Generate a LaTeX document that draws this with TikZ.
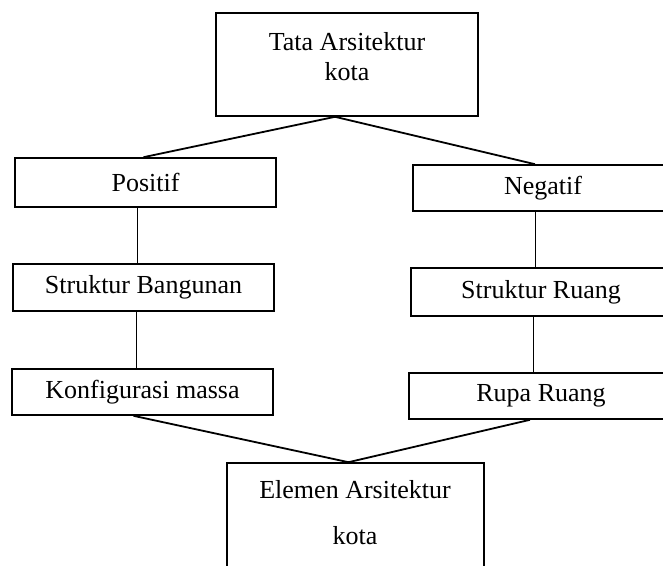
\documentclass[tikz,border=0pt]{standalone}
\usepackage{fontspec}
\setmainfont{Liberation Serif}
\tikzstyle{kotak}=[draw, rectangle, line width=1.6pt, inner sep=0pt, minimum width=261pt, minimum height=46pt, font=\fontsize{26}{30}\selectfont]
\tikzstyle{teks}=[align=center, inner sep=0pt, font=\fontsize{26}{30}\selectfont]
\tikzstyle{garis}=[line width=1.8pt]
\tikzstyle{tegak}=[line width=1pt]

\begin{document}
\begin{tikzpicture}[x=1pt,y=-1pt]
\useasboundingbox (0,0) rectangle (663,565);
\begin{scope}
\clip (0,0) rectangle (663,565);
% kotak atas
\node[kotak, minimum width=262pt, minimum height=103pt] (tata) at (347,64.5) {};
\node[teks] (tatateks) at (347,57) {Tata Arsitektur\\kota};
% kolom kiri
\node[kotak, minimum height=49pt] (positif) at (145.5,182.5) {Positif};
\node[kotak, minimum height=47pt] (bangunan) at (143.5,287.5) {Struktur Bangunan};
\node[kotak] (massa) at (142.5,392) {Konfigurasi massa};
% kolom kanan
\node[kotak, minimum width=260pt] (negatif) at (543,188) {Negatif};
\node[kotak, minimum width=260pt, minimum height=48pt] (ruang) at (541,292) {Struktur Ruang};
\node[kotak, minimum width=264pt] (rupa) at (541,396) {Rupa Ruang};
% kotak bawah
\node[kotak, minimum width=257pt, minimum height=140pt] (elemen) at (355.5,533) {};
\node[teks] (elementeks) at (355,513) {Elemen Arsitektur\\[16pt]kota};
% garis penghubung
\draw[garis] ([xshift=-2pt]positif.north) -- ([xshift=-12pt]tata.south) -- ([xshift=-8pt]negatif.north);
\draw[tegak] ([xshift=-8pt]positif.south) -- ([xshift=-6pt]bangunan.north);
\draw[tegak] ([xshift=-7pt]bangunan.south) -- ([xshift=-6pt]massa.north);
\draw[tegak] ([xshift=-8pt]negatif.south) -- ([xshift=-6pt]ruang.north);
\draw[tegak] ([xshift=-8pt]ruang.south) -- ([xshift=-8pt]rupa.north);
\draw[garis] ([xshift=-9pt]massa.south) -- ([xshift=-7pt]elemen.north) -- ([xshift=-11pt]rupa.south);
\end{scope}
\end{tikzpicture}
\end{document}
